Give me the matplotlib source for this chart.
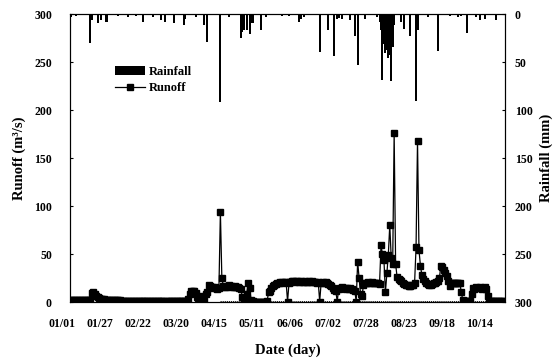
import matplotlib.pyplot as plt
import numpy as np
from matplotlib.transforms import blended_transform_factory

plt.rcParams['font.family'] = ['Liberation Serif', 'DejaVu Serif']
plt.rcParams['font.weight'] = 'bold'

# Gunluk akim (m3/s), gun 0 = 01/01
runoff = [
    2, 2, 2, 2, 2, 2, 2, 2, 2, 2,
    2, 2, 2, 2, 2, 9, 10, 8, 6, 5,
    4, 3, 3, 3, 2.5, 2.5, 2, 2, 2, 2,
    2, 2, 2, 2, 2, 1.5, 1, 1, 1, 1,
    1, 1, 1, 1, 1, 1, 1, 1, 1, 1,
    1, 1, 1, 1, 1, 1, 1, 1, 1, 1,
    1, 1, 1, 1, 1, 0.5, 1, 1, 1, 1,
    1, 1, 1, 1, 1, 1, 1, 1, 1, 1,
    1, 3, 8, 11, 12, 11, 9, 5, 4, 6,
    3, 2, 1, 8, 10, 18, 17, 16, 15, 16,
    15, 14, 15, 94, 25, 17, 16, 16, 17, 18,
    17, 16, 16, 17, 16, 16, 15, 14, 5, 1,
    1, 8, 20, 15, 2, 1, 0.5, 0.5, 0.5, 0.5,
    0.5, 0.5, 0.5, 0.5, 0.5, 1, 10, 12, 15, 17,
    18, 19, 20, 20, 21, 21, 20, 21, 21, 0.5,
    20, 21, 22, 22, 21, 22, 22, 21, 22, 21,
    21, 22, 21, 21, 22, 21, 22, 21, 21, 20,
    21, 0.5, 20, 21, 20, 21, 20, 19, 18, 17,
    15, 13, 12, 0.5, 14, 15, 16, 15, 15, 14,
    15, 14, 15, 14, 13, 12, 0.5, 42, 25, 8,
    6, 18, 20, 20, 21, 20, 20, 21, 20, 20,
    20, 20, 19, 59, 50, 44, 10, 30, 49, 80,
    46, 40, 176, 40, 26, 24, 23, 22, 20, 19,
    18, 18, 17, 17, 18, 18, 20, 57, 168, 54,
    38, 28, 24, 22, 20, 19, 18, 18, 19, 20,
    20, 21, 22, 25, 38, 36, 33, 30, 27, 22,
    17, 20, 20, 20, 20, 20, 20, 20, 10, 2,
    1, 1, 1, 1, 1, 8, 15, 14, 16, 15,
    15, 16, 14, 15, 16, 14, 6, 1, 1, 1,
    1, 1, 1, 1, 1, 1, 1, 1]
gun = np.arange(len(runoff))

# Yagis (mm)
rain_day = [1, 4, 14, 15, 19, 21, 25, 33, 40, 45,
            50, 57, 62, 65, 71, 78, 79, 86, 92, 94,
            103, 109, 117, 118, 119, 121, 123, 125, 131, 134,
            145, 150, 157, 158, 160, 171, 177, 181, 183, 184,
            186, 192, 195, 197, 202, 210, 212, 213, 214, 215,
            216, 217, 218, 219, 220, 221, 222, 227, 229, 233,
            237, 238, 245, 252, 260, 266, 268, 272, 278, 281,
            284, 292]
rain_mm = [3, 2, 30, 6, 9, 6, 8, 2, 3, 2,
           8, 3, 6, 8, 9, 11, 5, 3, 11, 29,
           92, 3, 25, 19, 16, 16, 21, 9, 16, 3,
           2, 2, 8, 5, 3, 39, 17, 44, 5, 4,
           5, 6, 23, 53, 5, 3, 8, 17, 69, 31,
           41, 37, 46, 43, 70, 34, 11, 8, 15, 23,
           91, 17, 3, 38, 2, 3, 2, 20, 3, 6,
           5, 6]

# taban cizgisi
base_day = [103, 285]
base_val = [1.5, 1.5]

tick_labels = ['01/01', '01/27', '02/22', '03/20', '04/15', '05/11',
               '06/06', '07/02', '07/28', '08/23', '09/18', '10/14']
tick_days = [0, 26, 52, 78, 104, 130, 156, 182, 208, 234, 260, 286]

fig = plt.figure(figsize=(5.6, 3.63), dpi=100)
ax = fig.add_axes([0.125, 0.168, 0.777, 0.793])

ax.plot(base_day, base_val, color='black', lw=0.6, ls=(0, (1.5, 1)))
ax.plot(gun, runoff, color='black', lw=0.9, marker='s', ms=3.8,
        label='Runoff')
ax.set_xlim(0, 298)
ax.set_ylim(0, 300)
ax.set_yticks(np.arange(0, 301, 50))
ax.set_xticks([])
ax.tick_params(axis='y', direction='in', length=2, labelsize=8.5, pad=13)
for t in ax.get_yticklabels():
    t.set_fontweight('bold')

# tarih etiketleri (biraz sola kaymis)
tr = blended_transform_factory(ax.transData, ax.transAxes)
for d, lab in zip(tick_days, tick_labels):
    ax.text(d - 5.5, -0.075, lab, transform=tr, ha='center', va='center',
            fontsize=8.5, fontweight='bold', clip_on=False)

ax.set_ylabel('Runoff (m³/s)', fontsize=10.5, fontweight='bold',
              labelpad=6)
ax.set_xlabel('Date (day)', fontsize=10.5, fontweight='bold', labelpad=30)

ax2 = ax.twinx()
ax2.bar(rain_day, rain_mm, width=1.4, color='black', label='Rainfall')
ax2.set_ylim(300, 0)
ax2.set_yticks(np.arange(0, 301, 50))
ax2.tick_params(axis='y', direction='in', length=2, labelsize=8.5, pad=7)
for t in ax2.get_yticklabels():
    t.set_fontweight('bold')
ax2.set_ylabel('Rainfall (mm)', fontsize=10.5, fontweight='bold',
               rotation=90, labelpad=5)

h1, l1 = ax2.get_legend_handles_labels()
h2, l2 = ax.get_legend_handles_labels()
leg = ax2.legend(h1 + h2, l1 + l2, loc='upper left',
                 bbox_to_anchor=(0.078, 0.86), frameon=False,
                 prop={'size': 9, 'weight': 'bold'},
                 handlelength=2.4, handletextpad=0.3, labelspacing=0.35)

fig.savefig('out.png', dpi=100)
